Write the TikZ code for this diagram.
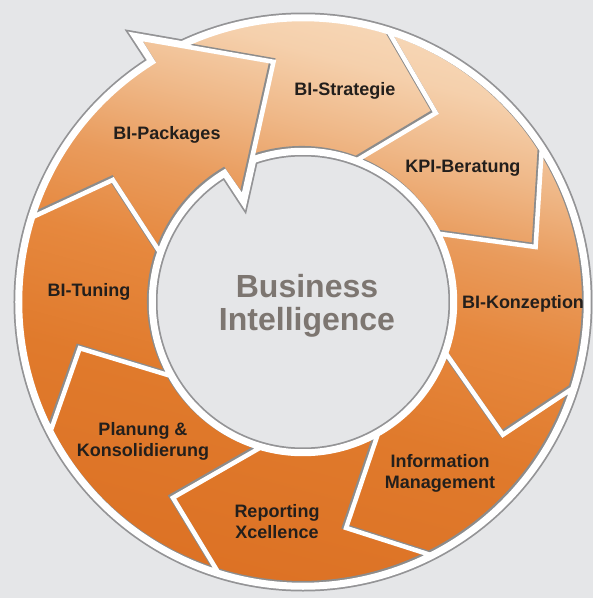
\documentclass[tikz,border=0pt]{standalone}
\usepackage{fontspec}
\setmainfont{Liberation Sans}
\usepackage{xcolor}
\usepackage{tikz}

\definecolor{bg}{RGB}{229,230,232}
\definecolor{rimgray}{RGB}{148,148,150}
\definecolor{labeltext}{RGB}{35,31,28}
\definecolor{bigtext}{RGB}{125,118,113}

\pgfdeclareverticalshading{ringshade}{100bp}{color(0bp)=(rgb,255:red,220;green,113;blue,36); color(25bp)=(rgb,255:red,220;green,113;blue,36); color(41bp)=(rgb,255:red,224;green,122;blue,44); color(51bp)=(rgb,255:red,230;green,136;blue,62); color(58bp)=(rgb,255:red,233;green,155;blue,92); color(64.5bp)=(rgb,255:red,239;green,184;blue,136); color(70.4bp)=(rgb,255:red,245;green,208;blue,172); color(75bp)=(rgb,255:red,247;green,216;blue,184); color(100bp)=(rgb,255:red,247;green,216;blue,184)}

\newcommand{\segpackages}{(162.5:283) arc[start angle=162.5, end angle=122, radius=283] -- (122:311) -- (97:242) -- (120:120) -- (121:152) arc[start angle=121, end angle=160.7, radius=152] -- (147.3:226) -- cycle}
\newcommand{\segstrategie}{(115.2:283) arc[start angle=115.2, end angle=72.3, radius=283] -- (54.9:231) -- (69.1:152) arc[start angle=69.1, end angle=109.6, radius=152] -- (97:242) -- cycle}
\newcommand{\segkpi}{(72.3:283) arc[start angle=72.3, end angle=32.5, radius=283] -- (13.3:239) -- (26.7:152) arc[start angle=26.7, end angle=69.1, radius=152] -- (54.9:231) -- cycle}
\newcommand{\segkonzeption}{(32.5:283) arc[start angle=32.5, end angle=-17.8, radius=283] -- (-33.6:240) -- (-19.8:152) arc[start angle=-19.8, end angle=26.7, radius=152] -- (13.3:239) -- cycle}
\newcommand{\seginfo}{(-17.8:283) arc[start angle=-17.8, end angle=-63.3, radius=283] -- (-79.2:230) -- (-60.5:152) arc[start angle=-60.5, end angle=-19.8, radius=152] -- (-33.6:240) -- cycle}
\newcommand{\segreporting}{(-63.3:283) arc[start angle=-63.3, end angle=-107.5, radius=283] -- (-123.6:235) -- (-106.4:152) arc[start angle=-106.4, end angle=-60.5, radius=152] -- (-79.2:230) -- cycle}
\newcommand{\segplanung}{(-107.5:283) arc[start angle=-107.5, end angle=-153, radius=283] -- (-168.3:228) -- (-151:152) arc[start angle=-151, end angle=-106.4, radius=152] -- (-123.6:235) -- cycle}
\newcommand{\segtuning}{(-153:283) arc[start angle=-153, end angle=-197.5, radius=283] -- (-212.7:226) -- (-199.3:152) arc[start angle=-199.3, end angle=-151, radius=152] -- (-168.3:228) -- cycle}
\newcommand{\allsegs}{\segpackages \segstrategie \segkpi \segkonzeption \seginfo \segreporting \segplanung \segtuning}

\begin{document}
\begin{tikzpicture}[x=1pt,y=1pt,
  lbl/.style={font=\fontsize{18}{21}\selectfont\bfseries, text=labeltext, align=center, inner sep=0pt},
  rim/.style={draw=rimgray, line width=13pt, line join=miter},
  rimwhite/.style={draw=white, fill=white, line width=9.5pt, line join=miter},
  gapshade/.style={draw=black!45, line width=5.5pt, line join=miter, shift={(-1.3,1.3)}},
  gap/.style={draw=white, line width=4.5pt, line join=miter}]
\fill[bg] (-303,-296) rectangle (290,302);
\useasboundingbox (-303,-296) rectangle (290,302);

\path[rim] (0,0) circle[radius=283] (0,0) circle[radius=152] (122:311) -- (97:242) -- (120:120) -- cycle;
\path[rimwhite, even odd rule] (0,0) circle[radius=283] (0,0) circle[radius=152];
\path[rimwhite] (122:311) -- (97:242) -- (120:120) -- cycle;

\begin{scope}
\clip \allsegs;
\shade[shading=ringshade, shading angle=-15] (-300,-300) rectangle (300,300);
\path[gapshade] \allsegs;
\end{scope}
\path[gap] \allsegs;

\node[lbl] (packages) at (-136,167) {BI-Packages};
\node[lbl] (strategie) at (42,211) {BI-Strategie};
\node[lbl] (kpi) at (160,134) {KPI-Beratung};
\node[lbl] (konzeption) at (220,-2) {BI-Konzeption};
\node[lbl] (info) at (137,-171) {Information\\Management};
\node[lbl] (reporting) at (-26,-220) {Reporting\\Xcellence};
\node[lbl] (planung) at (-160,-139) {Planung \&\\Konsolidierung};
\node[lbl] (tuning) at (-214,10) {BI-Tuning};
\node[font=\fontsize{32}{33}\selectfont\bfseries, text=bigtext, align=center, inner sep=0pt] (bi) at (4,-4) {Business\\Intelligence};
\end{tikzpicture}
\end{document}
